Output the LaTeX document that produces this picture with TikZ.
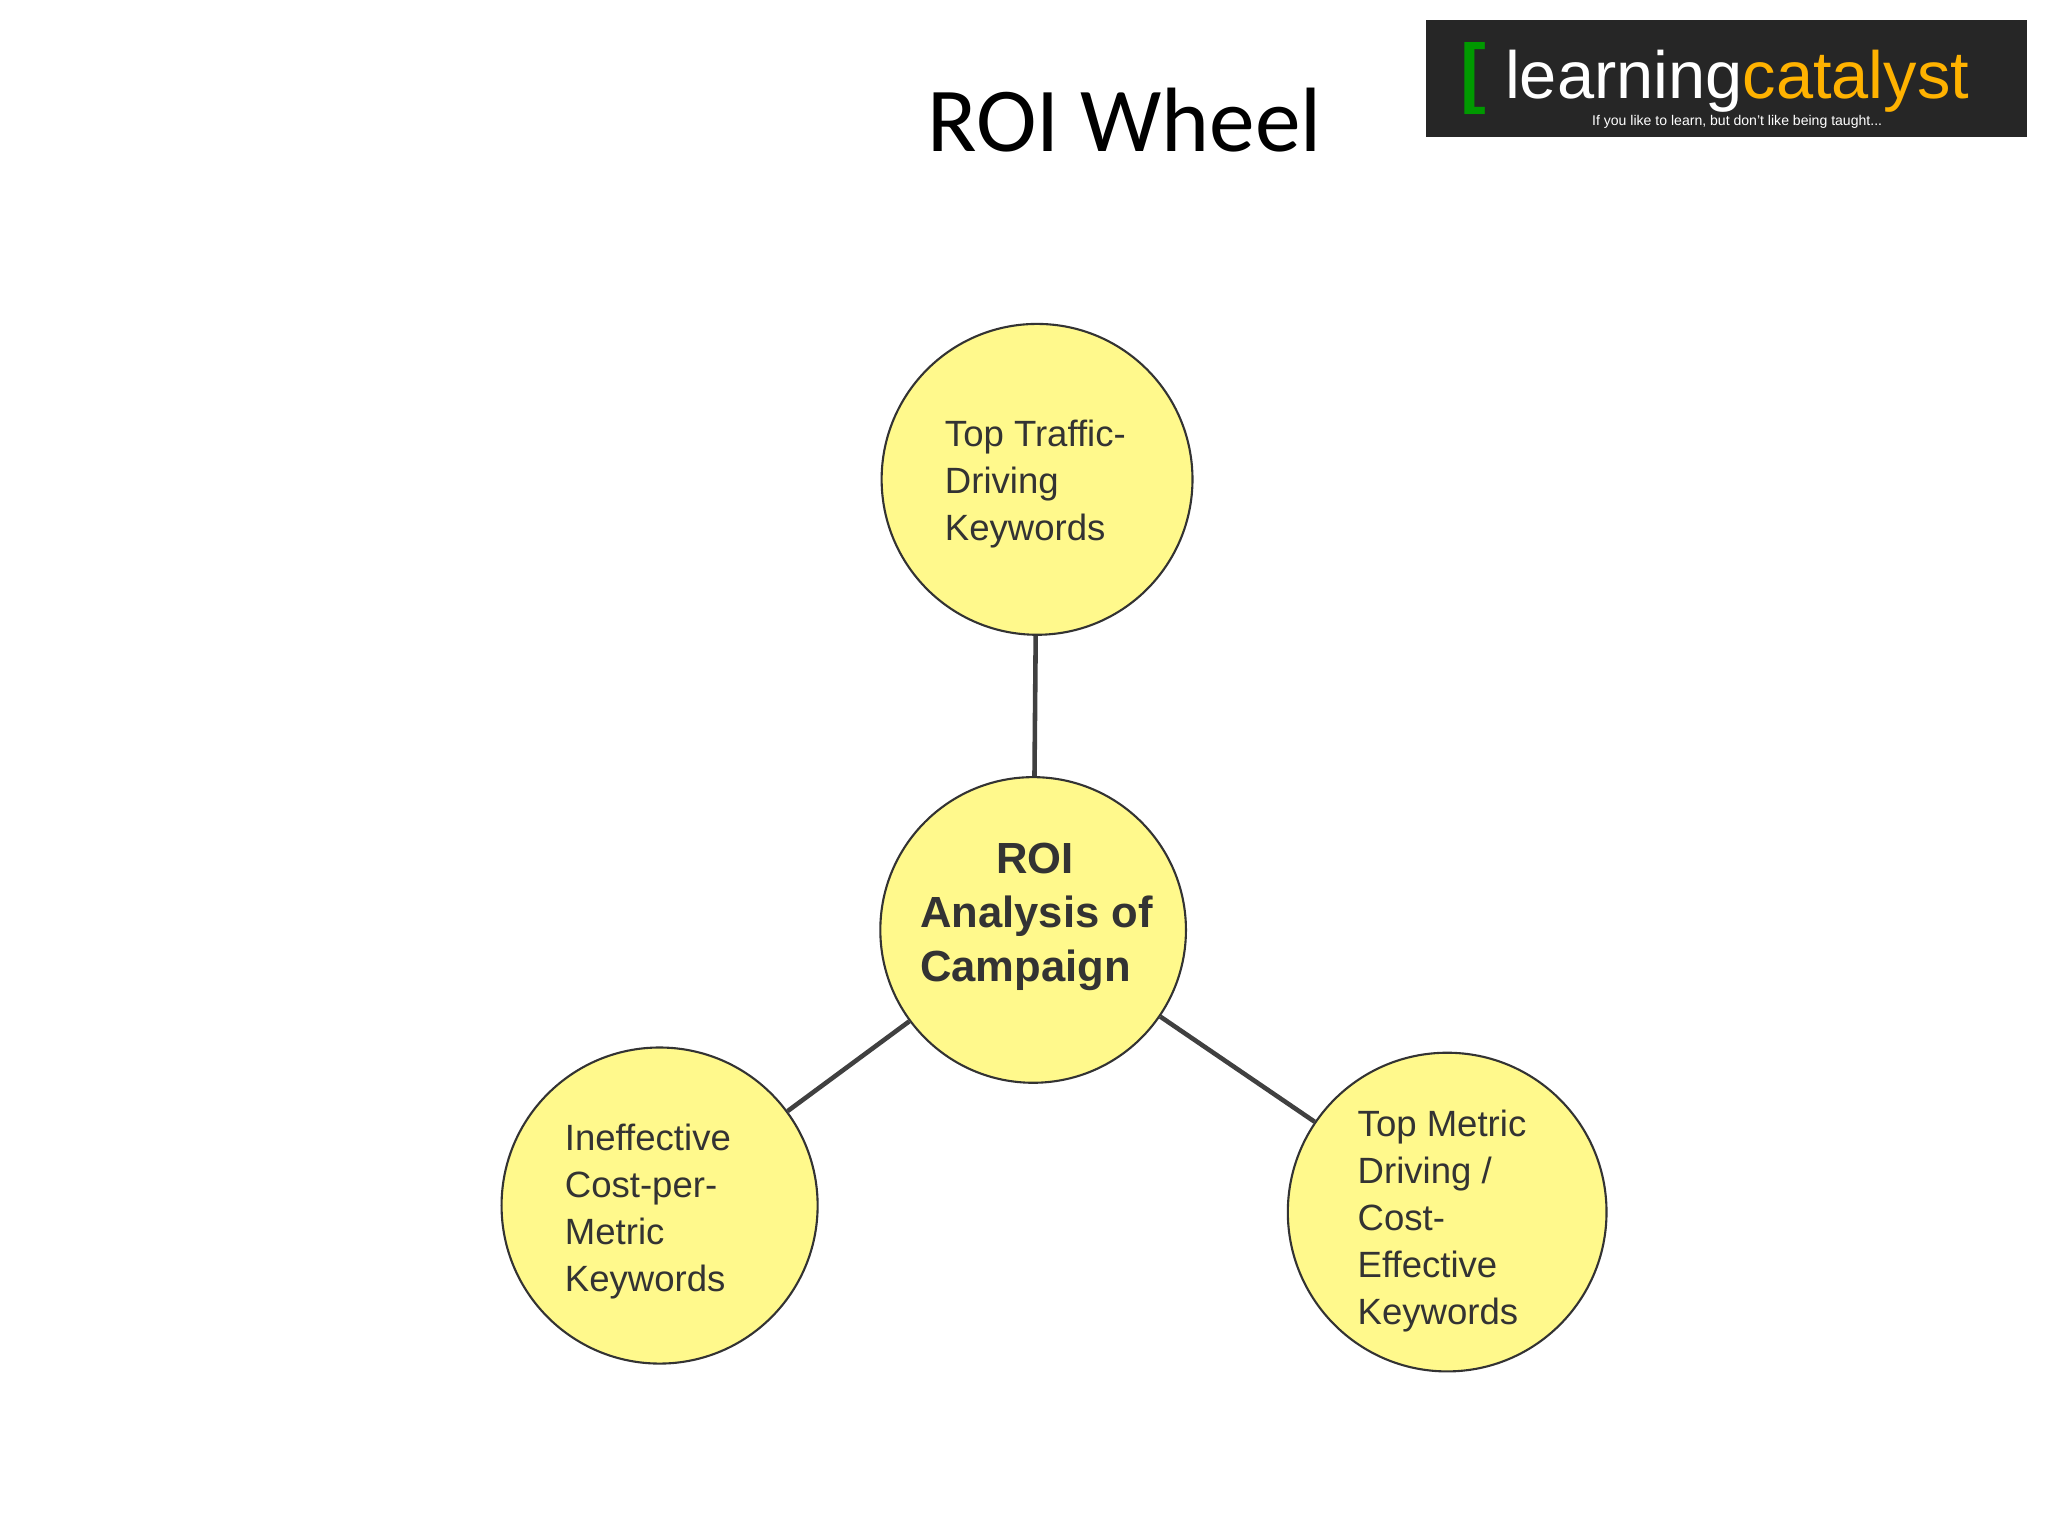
\documentclass[tikz,border=0pt]{standalone}
\usepackage{fontspec}
\setmainfont{Liberation Sans}
\newfontfamily\titlefont{Carlito}
\begin{document}
\begin{tikzpicture}[x=0.01306cm,y=-0.01306cm,
  bub/.style={circle,draw=black!80,line width=0.6pt,fill=yellow!45!white,inner sep=0pt},
  lbl/.style={align=left,font=\fontsize{10.4}{13.4}\selectfont,text=black!80},
  link/.style={draw=black!75,line width=1.3pt}]
\useasboundingbox (0,0) rectangle (1568,1176);
\node[font=\titlefont\fontsize{26}{30}\selectfont] (title) at (861,92) {ROI Wheel};
% logo
\node[fill=black!85,minimum width=460*0.01306cm,minimum height=90*0.01306cm,inner sep=0pt] (logo) at (1322,60) {};
\node[font=\fontsize{19}{20}\selectfont] (logotext) at (1330,62) {\textcolor{white}{learning}\textcolor{orange!60!yellow}{catalyst}};
\node[font=\fontsize{4}{5}\selectfont,text=white!80] (tag) at (1330,93) {If you like to learn, but don't like being taught...};
\node[font=\fontsize{22}{22}\selectfont\bfseries,text=green!60!black] (logoc) at (1128,60) {[};
% bubbles
\node[bub,minimum size=238*0.01306cm] (top) at (794,367) {};
\node[bub,minimum size=234*0.01306cm] (mid) at (791,712) {};
\node[bub,minimum size=242*0.01306cm] (left) at (505,923) {};
\node[bub,minimum size=244*0.01306cm] (right) at (1108,928) {};
\draw[link] (top) -- (mid);
\draw[link] (mid) -- (left);
\draw[link] (mid) -- (right);
\node[lbl,anchor=north west] (tt) at (714,312) {Top Traffic-\\Driving\\Keywords};
\node[align=left,anchor=north west,font=\fontsize{12.4}{15.3}\selectfont\bfseries,text=black!80] (mt) at (695,636) {\hspace*{1.75em}ROI\\Analysis of\\Campaign};
\node[lbl,anchor=north west] (lt) at (423,851) {Ineffective\\Cost-per-\\Metric\\Keywords};
\node[lbl,anchor=north west] (rt) at (1030,840) {Top Metric\\Driving /\\Cost-\\Effective\\Keywords};
\end{tikzpicture}
\end{document}
